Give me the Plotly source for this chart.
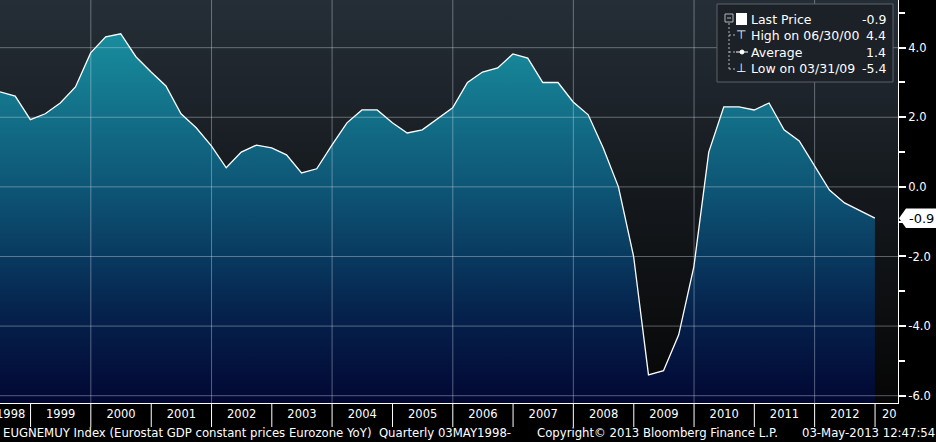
import plotly.graph_objects as go

# ---------------- data ----------------
quarter_dates = [f"{y}-{md}" for y in range(1998, 2013)
                 for md in ("03-31", "06-30", "09-30", "12-31")][1:]
gdp_yoy = [2.73, 2.61, 1.93, 2.10, 2.41, 2.87, 3.85, 4.31, 4.40, 3.74,
           3.30, 2.90, 2.10, 1.70, 1.18, 0.55, 1.00, 1.20, 1.12, 0.92,
           0.40, 0.52, 1.20, 1.84, 2.21, 2.21, 1.84, 1.55, 1.64, 1.95,
           2.27, 3.00, 3.30, 3.42, 3.82, 3.70, 3.00, 3.00, 2.44, 2.07,
           1.12, 0.00, -2.00, -5.40, -5.28, -4.25, -2.29, 1.00, 2.30, 2.30,
           2.21, 2.41, 1.64, 1.32, 0.63, -0.09, -0.46, -0.68, -0.90]
y_ticks = [-6, -4, -2, 0, 2, 4]
y_minor = [-5, -3, -1, 1, 3, 5]
year_bounds = list(range(1999, 2014))
grid_years = list(range(2000, 2013, 2))
legend_labels = ["Last Price", "High on 06/30/00", "Average", "Low on 03/31/09"]
legend_values = [-0.9, 4.4, 1.4, -5.4]
footer_texts = ["EUGNEMUY Index (Eurostat GDP constant prices Eurozone YoY)  Quarterly 03MAY1998-",
                "Copyright\u00a9 2013 Bloomberg Finance L.P.",
                "03-May-2013 12:47:54"]

# ---------------- layout helpers ----------------
FONT = "DejaVu Sans"
PR, PB = 898, 403          # plot area right / bottom in pixels
def X(px): return px / PR
def Y(py): return (PB - py) / PB

y_min, y_max = -6.21, 5.37
x_start, x_end = "1998-06-30", "2013-05-20"

fig = go.Figure()

# background gradient of the plotting area
fig.add_trace(go.Scatter(
    x=[x_start, x_end, x_end, x_start, x_start],
    y=[y_min, y_min, y_max, y_max, y_min],
    mode="none", fill="toself",
    fillgradient=dict(type="vertical",
                      colorscale=[[0, "#060606"], [0.5, "#14181c"], [1, "#252e37"]],
                      start=y_min, stop=y_max),
    hoverinfo="skip", showlegend=False))

# baseline for area
fig.add_trace(go.Scatter(x=quarter_dates, y=[y_min] * len(quarter_dates),
                         mode="lines", line=dict(width=0), hoverinfo="skip",
                         showlegend=False))
# area
fig.add_trace(go.Scatter(
    x=quarter_dates, y=gdp_yoy, mode="lines", fill="tonexty",
    fillgradient=dict(type="vertical",
                      colorscale=[[0, "#020733"], [0.25, "#05234d"],
                                  [0.55, "#0d5172"], [1, "#188d9d"]],
                      start=y_min, stop=4.4),
    line=dict(color="white", width=1.3), showlegend=False))

# faint grid drawn over the area, one trace per grid line
grid_line = dict(color="rgba(220,230,240,0.38)", width=1)
for v in y_ticks:
    fig.add_trace(go.Scatter(x=[x_start, x_end], y=[v, v], mode="lines",
                             hoverinfo="skip", showlegend=False, line=grid_line))
for yr in grid_years:
    d = f"{yr}-01-01"
    fig.add_trace(go.Scatter(x=[d, d], y=[y_min, y_max], mode="lines",
                             hoverinfo="skip", showlegend=False, line=grid_line))

shapes = []
# year separators in the label band
for yr in year_bounds:
    d = f"{yr}-01-01"
    shapes.append(dict(type="line", xref="x", yref="paper", x0=d, x1=d, y0=0, y1=Y(427),
                       line=dict(color="white", width=1), layer="above"))

# legend box
shapes.append(dict(type="rect", xref="paper", yref="paper",
                   x0=X(717), x1=X(893), y0=Y(82), y1=Y(4),
                   fillcolor="#1b2127", line=dict(color="#5c636b", width=1), layer="above"))
# tree lines
tree_col = "#b0b6bc"
shapes.append(dict(type="line", xref="paper", yref="paper", x0=X(729), x1=X(729),
                   y0=Y(69), y1=Y(22), line=dict(color=tree_col, width=1, dash="2px,2px"),
                   layer="above"))
for py in (35, 52, 69):
    shapes.append(dict(type="line", xref="paper", yref="paper", x0=X(729), x1=X(735),
                       y0=Y(py), y1=Y(py), line=dict(color=tree_col, width=1, dash="2px,2px"),
                       layer="above"))
# collapse box
shapes.append(dict(type="rect", xref="paper", yref="paper", x0=X(725), x1=X(733),
                   y0=Y(22), y1=Y(14), line=dict(color=tree_col, width=1), layer="above"))
shapes.append(dict(type="line", xref="paper", yref="paper", x0=X(727), x1=X(731),
                   y0=Y(18), y1=Y(18), line=dict(color=tree_col, width=1), layer="above"))
# white square (last price)
shapes.append(dict(type="rect", xref="paper", yref="paper", x0=X(736), x1=X(747),
                   y0=Y(25), y1=Y(13), fillcolor="white", line=dict(width=0), layer="above"))
# average icon
shapes.append(dict(type="line", xref="paper", yref="paper", x0=X(736), x1=X(748),
                   y0=Y(52), y1=Y(52), line=dict(color="white", width=1), layer="above"))
shapes.append(dict(type="circle", xref="paper", yref="paper", x0=X(740), x1=X(744),
                   y0=Y(54), y1=Y(50), fillcolor="white", line=dict(color="white", width=1),
                   layer="above"))

# last value tag
lv = gdp_yoy[-1]
h = 0.28
shapes.append(dict(type="path", xref="paper", yref="y",
                   path=(f"M {X(899)},{lv} L {X(906)},{lv + h} L {X(936)},{lv + h} "
                         f"L {X(936)},{lv - h} L {X(906)},{lv - h} Z"),
                   fillcolor="white", line=dict(width=0), layer="above"))

annotations = []
row_y = [19, 35, 52, 68]
for lab, val, py in zip(legend_labels, legend_values, row_y):
    annotations.append(dict(xref="paper", yref="paper", x=X(749), y=Y(py), text=lab,
                            showarrow=False, xanchor="left", yanchor="middle",
                            font=dict(family=FONT, size=12.5, color="white")))
    annotations.append(dict(xref="paper", yref="paper", x=X(888), y=Y(py), text=f"{val:.1f}",
                            showarrow=False, xanchor="right", yanchor="middle",
                            font=dict(family=FONT, size=12.5, color="white")))
for sym, py in (("\u22a4", 35), ("\u22a5", 68)):
    annotations.append(dict(xref="paper", yref="paper", x=X(741), y=Y(py), text=sym,
                            showarrow=False, xanchor="center", yanchor="middle",
                            font=dict(family=FONT, size=12, color="white")))

annotations.append(dict(xref="paper", yref="y", x=X(921), y=lv, text=f"{lv:.1f}",
                        showarrow=False, xanchor="center", yanchor="middle",
                        font=dict(family=FONT, size=13, color="black")))
# partially visible year labels at the edges
annotations.append(dict(xref="paper", yref="paper", x=X(27), y=Y(414), text="1998",
                        showarrow=False, xanchor="right", yanchor="middle",
                        font=dict(family=FONT, size=11.5, color="white")))
annotations.append(dict(xref="paper", yref="paper", x=X(880), y=Y(414), text="20",
                        showarrow=False, xanchor="left", yanchor="middle",
                        font=dict(family=FONT, size=11.5, color="white")))
for txt, px in zip(footer_texts, (1, 535, 800)):
    annotations.append(dict(xref="paper", yref="paper", x=X(px), y=Y(433), text=txt,
                            showarrow=False, xanchor="left", yanchor="middle",
                            font=dict(family=FONT, size=11.7, color="white")))

fig.update_layout(
    width=936, height=442,
    margin=dict(l=0, r=936 - PR, t=0, b=442 - PB),
    paper_bgcolor="black", plot_bgcolor="#0b0b0b",
    showlegend=False,
    shapes=shapes, annotations=annotations,
    xaxis=dict(type="date", range=[x_start, x_end], showgrid=False, zeroline=False,
               dtick="M12", tick0="1999-01-01", tickformat="%Y", ticklabelmode="period",
               ticks="", showline=True, linecolor="white", linewidth=1,
               tickfont=dict(family=FONT, size=11.5, color="white")),
    yaxis=dict(range=[y_min, y_max], side="right", showgrid=False, zeroline=False,
               tickmode="array", tickvals=y_ticks, ticktext=[f"{v:.1f}" for v in y_ticks],
               ticks="outside", ticklen=7, tickwidth=2, tickcolor="white",
               showline=True, linecolor="white", linewidth=1,
               minor=dict(tickmode="array", tickvals=y_minor, ticks="outside",
                          ticklen=6, tickcolor="white", showgrid=False),
               tickfont=dict(family=FONT, size=11.5, color="white")),
)

fig.write_html("out.html")
